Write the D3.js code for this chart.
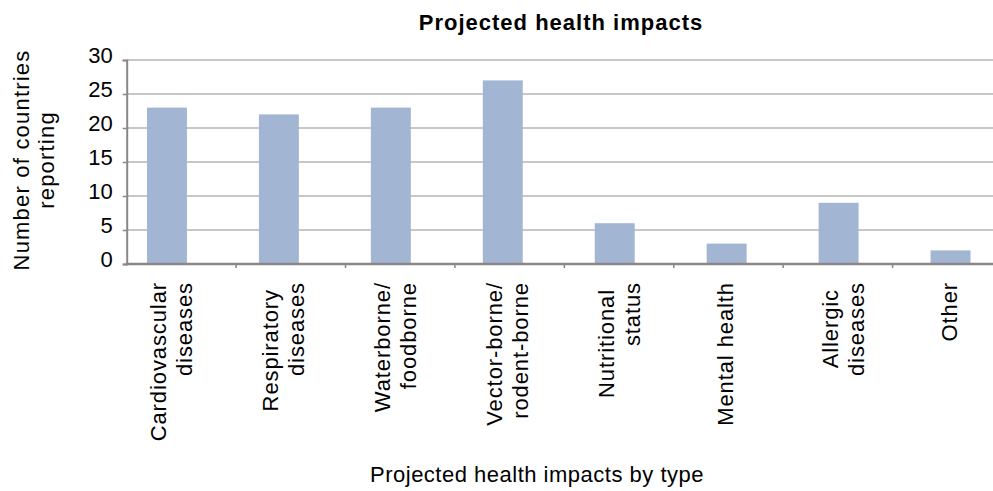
<!DOCTYPE html>
<html>
<head>
<meta charset="utf-8">
<script src="https://cdn.jsdelivr.net/npm/d3@7"></script>
<style>
  html, body { margin: 0; padding: 0; background: #fff; }
  svg { display: block; font-family: "Liberation Sans", Arial, Helvetica, sans-serif; }
</style>
</head>
<body>
<svg id="chart" width="993" height="491"></svg>
<script>
const categories = [
  "Cardiovascular\ndiseases",
  "Respiratory \ndiseases",
  "Waterborne/\nfoodborne",
  "Vector-borne/\nrodent-borne",
  "Nutritional \nstatus",
  "Mental health",
  "Allergic \ndiseases",
  "Other"
];
const values = [23, 22, 23, 27, 6, 3, 9, 2];
const yTicks = [0, 5, 10, 15, 20, 25, 30];
const title = "Projected health impacts";
const xTitle = "Projected health impacts by type";
const yTitleLines = ["Number of countries", "reporting"];

const svg = d3.select("#chart");
const W = 993, H = 491;
const axisX = 126.7;

const y = d3.scaleLinear().domain([0, 30]).range([264, 60]);
const x = d3.scaleBand().domain(categories).range([111, 1006.5])
  .paddingInner(0.643).paddingOuter(0.3215);
const xTick = d3.scaleBand().domain(categories).range([axisX, 1002]);

// gridlines
svg.append("g").selectAll("line")
  .data(yTicks.filter(d => d > 0))
  .join("line")
  .attr("x1", axisX).attr("x2", W + 10)
  .attr("y1", d => y(d)).attr("y2", d => y(d))
  .attr("stroke", "#b4b4b4").attr("stroke-width", 1.4);

// bars
svg.append("g").selectAll("rect")
  .data(categories)
  .join("rect")
  .attr("x", d => x(d))
  .attr("width", x.bandwidth())
  .attr("y", (d, i) => y(values[i]))
  .attr("height", (d, i) => y(0) - y(values[i]))
  .attr("fill", "#a2b6d4");

// y axis
const yAxis = d3.axisLeft(y).tickValues(yTicks).tickSize(4).tickPadding(10)
  .tickFormat(d3.format("d"));
const gy = svg.append("g").attr("transform", `translate(${axisX},0)`).call(yAxis);
gy.select(".domain").attr("stroke", "#888").attr("stroke-width", 2);
gy.selectAll(".tick line").attr("stroke", "#888").attr("stroke-width", 1.5);
gy.selectAll(".tick text")
  .attr("font-size", 22).attr("fill", "#000")
  .attr("font-family", "'Liberation Sans', Arial, sans-serif")
  .attr("dy", "0.32em").attr("y", -5);

// x axis line and ticks
svg.append("line")
  .attr("x1", axisX - 1).attr("x2", W + 10)
  .attr("y1", y(0)).attr("y2", y(0))
  .attr("stroke", "#888").attr("stroke-width", 2.5);
svg.append("g").selectAll("line")
  .data(categories.slice(1))
  .join("line")
  .attr("x1", d => xTick(d)).attr("x2", d => xTick(d))
  .attr("y1", y(0)).attr("y2", y(0) + 4)
  .attr("stroke", "#888").attr("stroke-width", 1.5);

// category labels (rotated)
const labels = svg.append("g").selectAll("text")
  .data(categories)
  .join("text")
  .attr("transform", d => {
    const n = d.split("\n").length;
    const cx = x(d) + x.bandwidth() / 2 + 6 - (n - 1) * 6.5;
    return `translate(${cx},282) rotate(-90)`;
  })
  .attr("text-anchor", "end")
  .attr("font-size", 22)
  .attr("letter-spacing", "0.9px")
  .attr("fill", "#000")
  .style("white-space", "pre");
labels.selectAll("tspan")
  .data(d => d.split("\n"))
  .join("tspan")
  .attr("x", 0)
  .attr("y", (d, i) => i * 26)
  .text(d => d);

// title
svg.append("text")
  .attr("x", 561).attr("y", 30)
  .attr("text-anchor", "middle")
  .attr("font-size", 22).attr("font-weight", "bold")
  .attr("letter-spacing", "1px")
  .attr("fill", "#000")
  .text(title);

// x title
svg.append("text")
  .attr("x", 537).attr("y", 482)
  .attr("text-anchor", "middle")
  .attr("font-size", 22)
  .attr("letter-spacing", "0.5px")
  .attr("fill", "#000")
  .text(xTitle);

// y title
const yt = svg.append("text")
  .attr("transform", "translate(28.5,160) rotate(-90)")
  .attr("text-anchor", "middle")
  .attr("font-size", 22)
  .attr("letter-spacing", "1.2px")
  .attr("fill", "#000");
yt.selectAll("tspan")
  .data(yTitleLines)
  .join("tspan")
  .attr("x", 0)
  .attr("y", (d, i) => i * 25)
  .text(d => d);
</script>
</body>
</html>
